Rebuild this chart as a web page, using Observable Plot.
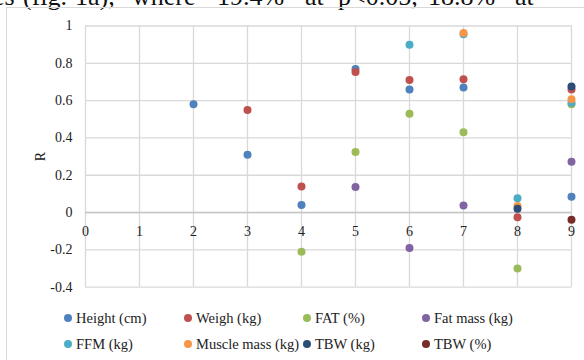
<!DOCTYPE html>
<html>
<head>
<meta charset="utf-8">
<script src="https://cdn.jsdelivr.net/npm/d3@7"></script>
<script src="https://cdn.jsdelivr.net/npm/@observablehq/plot@0.6"></script>
<style>
  html, body { margin: 0; padding: 0; background: #fff; }
  #wrap { position: relative; width: 584px; height: 360px; overflow: hidden; font-family: "Liberation Serif", "Times New Roman", serif; }
  #topsvg { position: absolute; left: 0; top: 0; }
  #box { position: absolute; left: 6px; top: 7px; width: 600px; height: 400px; border-left: 1px solid #d9d9d9; border-top: 1px solid #d9d9d9; }
  #chart { position: absolute; left: 0; top: 0; }
  .leg { position: absolute; font-size: 14.5px; color: #222; white-space: nowrap; line-height: 16px; font-family: "Liberation Serif", "Times New Roman", serif; }
  .leg span.dot { display: inline-block; width: 8px; height: 8px; border-radius: 50%; margin-right: 4px; vertical-align: 1px; }
</style>
</head>
<body>
<div id="wrap">
  <svg id="topsvg" width="584" height="10">
    <text y="5" font-size="26" font-family="Liberation Serif, Times New Roman, serif" fill="#111">
      <tspan x="-7">es</tspan><tspan x="23">(fig.</tspan><tspan x="75">1a),</tspan><tspan x="132">where</tspan><tspan x="217">19.4%</tspan><tspan x="305">at</tspan><tspan x="338">p&lt;0.05,</tspan><tspan x="428">18.8%</tspan><tspan x="515">at</tspan>
    </text>
  </svg>
  <div id="box"></div>
  <div id="chart"></div>
</div>
<script>
// Data
const xs = [2, 3, 4, 5, 6, 7, 8, 9];
const seriesNames = ["Height (cm)", "Weigh (kg)", "FAT (%)", "Fat mass (kg)", "FFM (kg)", "Muscle mass (kg)", "TBW (kg)", "TBW (%)"];
const heightVals   = [0.58, 0.31, 0.04, 0.77, 0.66, 0.67, null, 0.085];
const weighVals    = [null, 0.55, 0.14, 0.753, 0.71, 0.715, -0.025, 0.66];
const fatPctVals   = [null, null, -0.21, 0.325, 0.53, 0.43, -0.30, 0.58];
const fatMassVals  = [null, null, null, 0.137, -0.19, 0.038, null, 0.272];
const ffmVals      = [null, null, null, null, 0.90, 0.956, 0.077, 0.588];
const muscleVals   = [null, null, null, null, null, 0.963, 0.035, 0.608];
const tbwKgVals    = [null, null, null, null, null, null, 0.021, 0.676];
const tbwPctVals   = [null, null, null, null, null, null, null, -0.038];
const colors = ["#4F81BD", "#C0504D", "#9BBB59", "#8064A2", "#4BACC6", "#F79646", "#2C4D75", "#772C2A"];
const xTicks = [0, 1, 2, 3, 4, 5, 6, 7, 8, 9];
const yTicks = [-0.4, -0.2, 0, 0.2, 0.4, 0.6, 0.8, 1];

const allVals = [heightVals, weighVals, fatPctVals, fatMassVals, ffmVals, muscleVals, tbwKgVals, tbwPctVals];
const points = [];
allVals.forEach((vals, si) => {
  vals.forEach((v, i) => {
    if (v !== null) points.push({ x: xs[i], r: v, series: seriesNames[si] });
  });
});

const chart = Plot.plot({
  width: 584,
  height: 360,
  marginLeft: 85,
  marginRight: 13,
  marginTop: 25.5,
  marginBottom: 73.3,
  style: { fontFamily: "'Liberation Serif', 'Times New Roman', serif", fontSize: "14px", background: "transparent", color: "#222" },
  x: { domain: [0, 9], ticks: xTicks, axis: null },
  y: { domain: [-0.4, 1], ticks: yTicks },
  color: { domain: seriesNames, range: colors },
  marks: [
    Plot.gridX(xTicks, { stroke: "#d9d9d9", strokeOpacity: 1, strokeWidth: 1.3 }),
    Plot.gridY(yTicks, { stroke: "#d9d9d9", strokeOpacity: 1, strokeWidth: 1.3 }),
    Plot.ruleY([0], { stroke: "#c4c4c4", strokeWidth: 1.6 }),
    Plot.axisY(yTicks, { tickSize: 0, tickPadding: 13, tickFormat: d => String(+d.toFixed(1)), label: "R", labelAnchor: "center", labelArrow: "none", labelOffset: 50, fontSize: 14 }),
    Plot.text(xTicks, { x: d => d, y: 0, text: d => String(d), dy: 19, fontSize: 14, fill: "#222" }),
    Plot.dot(points, { x: "x", y: "r", fill: "series", r: 4, stroke: "none" })
  ]
});
document.getElementById("chart").appendChild(chart);

// Legend (HTML, positioned below plot area)
const legPos = [
  [64, 310], [184, 310], [303, 310], [422, 310],
  [64, 336], [184, 336], [303, 336], [422, 336]
];
const wrap = document.getElementById("wrap");
seriesNames.forEach((name, i) => {
  const d = document.createElement("div");
  d.className = "leg";
  d.style.left = legPos[i][0] + "px";
  d.style.top = legPos[i][1] + "px";
  const dot = document.createElement("span");
  dot.className = "dot";
  dot.style.background = colors[i];
  d.appendChild(dot);
  d.appendChild(document.createTextNode(name));
  wrap.appendChild(d);
});
</script>
</body>
</html>
